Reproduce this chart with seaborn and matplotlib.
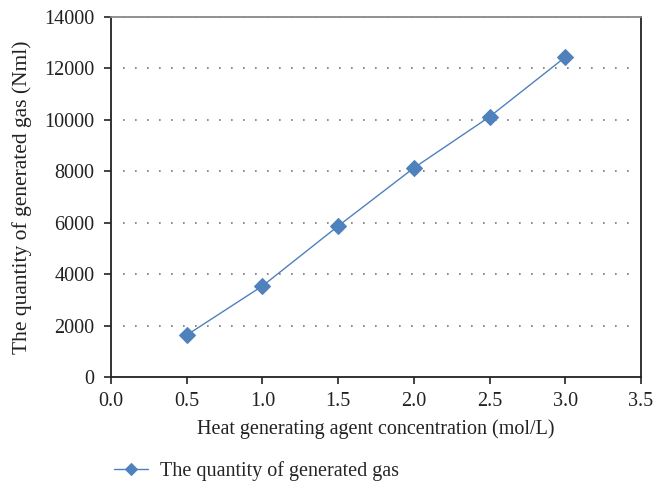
import matplotlib.pyplot as plt
import pandas as pd
import seaborn as sns

concentration = [0.5, 1.0, 1.5, 2.0, 2.5, 3.0]
gas_volume = [1630, 3540, 5870, 8130, 10120, 12440]
series_name = 'The quantity of generated gas'
y_ticks = list(range(0, 14001, 2000))
x_ticks = [0.0, 0.5, 1.0, 1.5, 2.0, 2.5, 3.0, 3.5]

sns.set_style('white', {'xtick.bottom': True, 'ytick.left': True})
plt.rcParams['font.family'] = ['Liberation Serif', 'DejaVu Serif']

df = pd.DataFrame({'conc': concentration, 'gas': gas_volume, 'series': series_name})
blue = '#4F81BD'
dark = '#222222'

fig = plt.figure(figsize=(6.68, 4.83), dpi=100)
ax = fig.add_axes([111 / 668, 1 - 377 / 483, 530 / 668, 360 / 483])

# Excel-like dotted gridlines that stop short of the spines
for y in y_ticks[1:]:
    ax.axhline(y, xmin=0.023, xmax=0.98, color='#777777', linewidth=1.2,
               linestyle=(0, (1, 6.2)), zorder=0)

sns.lineplot(data=df, x='conc', y='gas', hue='series', palette=[blue],
             marker='D', markersize=8, markeredgecolor=blue, linewidth=1,
             ax=ax)

ax.set_xlim(0, 3.5)
ax.set_ylim(0, 14000)
ax.set_xticks(x_ticks)
ax.set_xticklabels([f'{v:.1f}' for v in x_ticks])
ax.set_yticks(y_ticks)
ax.tick_params(axis='both', labelsize=14.5, direction='out', length=5, width=1.2,
               colors=dark, bottom=True, left=True)
ax.tick_params(axis='y', pad=7)
ax.tick_params(axis='x', pad=6)
for s in ax.spines.values():
    s.set_color(dark)
    s.set_linewidth(1.3)
ax.spines['top'].set_color('#888888')

ax.set_xlabel('Heat generating agent concentration (mol/L)', fontsize=14.5,
              color=dark, labelpad=6)
ax.set_ylabel('The quantity of generated gas (Nml)', fontsize=15.5,
              color=dark, labelpad=9)

ax.legend(loc='upper left', bbox_to_anchor=(-0.01, -0.212), frameon=False,
          fontsize=14.5, handlelength=1.7, handletextpad=0.6, borderaxespad=0,
          markerscale=0.8)

fig.savefig('out.png', dpi=100)
